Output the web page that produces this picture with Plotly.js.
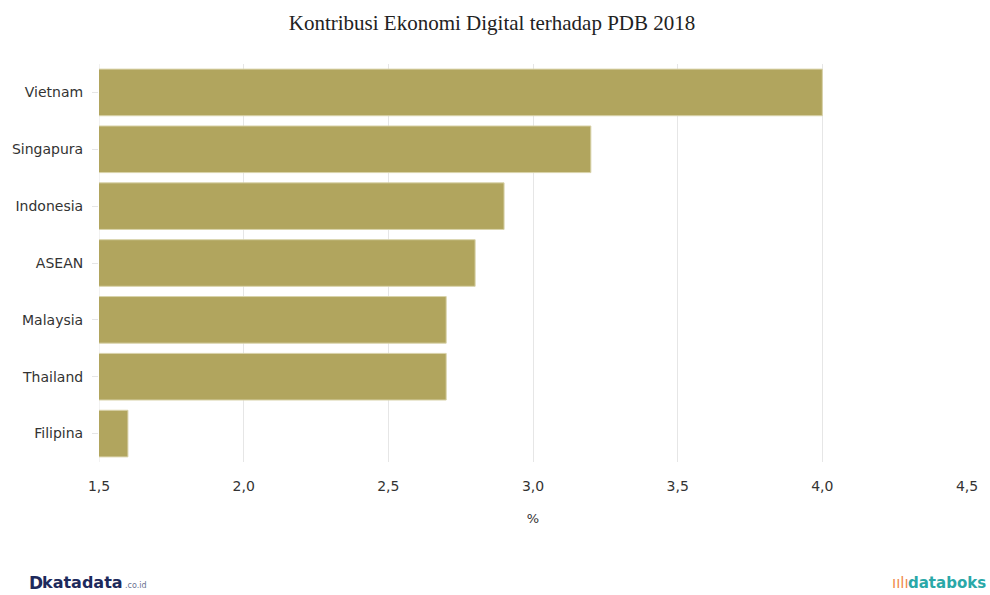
<!DOCTYPE html>
<html>
<head>
<meta charset="utf-8">
<script src="https://cdn.plot.ly/plotly-3.0.1.min.js"></script>
<style>html,body{margin:0;padding:0;background:#fff;}#chart{width:990px;height:595px;}</style>
</head>
<body>
<div id="chart"></div>
<script>
var categories = ["Vietnam", "Singapura", "Indonesia", "ASEAN", "Malaysia", "Thailand", "Filipina"];
var values = [4.0, 3.2, 2.9, 2.8, 2.7, 2.7, 1.6];
var tickValues = [1.5, 2.0, 2.5, 3.0, 3.5, 4.0, 4.5];
var tickLabels = ["1,5", "2,0", "2,5", "3,0", "3,5", "4,0", "4,5"];

var trace = {
  type: "bar",
  orientation: "h",
  y: categories,
  x: values,
  base: 0,
  marker: { color: "#b1a55e", line: { color: "#d9d3ab", width: 1 } },
  hoverinfo: "x+y"
};

var logoFont = "DejaVu Sans, sans-serif";
var logoY = -0.303;
var layout = {
  width: 990, height: 595,
  paper_bgcolor: "#fff", plot_bgcolor: "#fff",
  margin: { l: 99, r: 23, t: 64, b: 133 },
  bargap: 0.18,
  showlegend: false,
  title: {
    text: "Kontribusi Ekonomi Digital terhadap PDB 2018",
    font: { family: "Liberation Serif, Times New Roman, serif", size: 21, color: "#222" },
    x: 0.497, xanchor: "center", y: 0.975, yanchor: "top"
  },
  xaxis: {
    range: [1.5, 4.5],
    tickvals: tickValues,
    ticktext: tickLabels,
    showgrid: true, gridcolor: "#e6e6e6", gridwidth: 1,
    zeroline: false, showline: false,
    ticks: "", ticklabelstandoff: 14,
    tickfont: { family: "DejaVu Sans, Verdana, sans-serif", size: 14, color: "#333" },
    title: { text: "%", font: { family: "DejaVu Sans, Verdana, sans-serif", size: 13, color: "#333" }, standoff: 20 }
  },
  yaxis: {
    autorange: "reversed",
    showgrid: false, zeroline: false, showline: false,
    ticks: "outside", ticklen: 6, tickcolor: "#e6e6e6",
    ticklabelstandoff: 6,
    tickfont: { family: "DejaVu Sans, Verdana, sans-serif", size: 14, color: "#333" }
  },
  shapes: [
    { type: "line", xref: "x", yref: "paper", x0: 1.5, x1: 1.5, y0: 0, y1: 1, line: { color: "#e6e6e6", width: 1 }, layer: "below" }
  ],
  annotations: [
    { xref: "paper", yref: "paper", x: -0.083, y: logoY, xanchor: "left", yanchor: "middle", showarrow: false,
      text: "<b>D</b>", font: { family: logoFont, size: 17, color: "#1d2a5c" } },
    { xref: "paper", yref: "paper", x: -0.068, y: logoY, xanchor: "left", yanchor: "middle", showarrow: false,
      text: "<b>katadata</b>", font: { family: logoFont, size: 16, color: "#1d2a5c" } },
    { xref: "paper", yref: "paper", x: 0.028, y: logoY - 0.008, xanchor: "left", yanchor: "middle", showarrow: false,
      text: ".co.id", font: { family: logoFont, size: 8, color: "#6a7290" } },
    { xref: "paper", yref: "paper", x: 0.935, y: logoY, xanchor: "right", yanchor: "middle", showarrow: false,
      text: "ıılı", font: { family: logoFont, size: 15, color: "#f08a4b" } },
    { xref: "paper", yref: "paper", x: 1.024, y: logoY, xanchor: "right", yanchor: "middle", showarrow: false,
      text: "<b>databoks</b>", font: { family: logoFont, size: 15, color: "#2aa8a8" } }
  ]
};

Plotly.newPlot("chart", [trace], layout, { displayModeBar: false, staticPlot: true });
</script>
</body>
</html>
